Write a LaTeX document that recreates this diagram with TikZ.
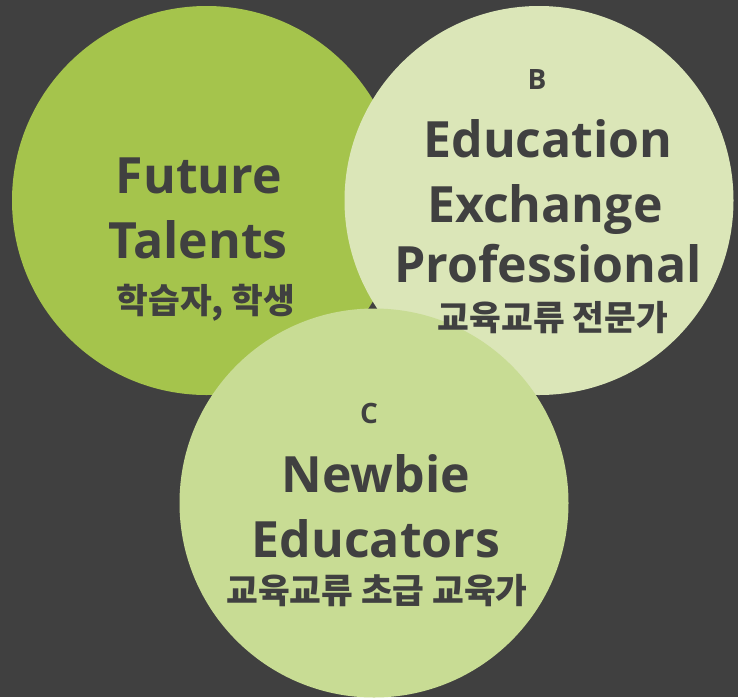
\documentclass[tikz,border=0pt]{standalone}
\usepackage{fontspec}
\setmainfont{Open Sans}
\newfontfamily\kor{Noto Sans CJK KR}
\usepackage{tikz}

\definecolor{fundal}{HTML}{404040}
\definecolor{verdeA}{HTML}{A5C44C}
\definecolor{verdeB}{HTML}{DBE6B8}
\definecolor{verdeC}{HTML}{C8DC94}
\definecolor{scris}{HTML}{404040}

\begin{document}
\begin{tikzpicture}[x=1pt, y=-1pt]
        \tikzstyle{cerc}   = [circle, inner sep=0pt, minimum size=389pt]
        \tikzstyle{every node} = [text=scris, inner sep=0pt, anchor=base]
        \tikzstyle{titlu}  = [font=\fontsize{50}{50}\selectfont\bfseries]
        \tikzstyle{litera} = [font=\fontsize{28}{28}\selectfont\bfseries]
        \tikzstyle{coreean} = [font=\kor\fontsize{34.5}{34.5}\selectfont\bfseries]

        \fill[fundal] (0,0) rectangle (738,697);
        \useasboundingbox (0,0) rectangle (738,697);

        % Cercurile.
        \node[cerc, fill=verdeA, anchor=center] (cercA) at (206.5,200.5) {};
        \node[cerc, fill=verdeB, anchor=center] (cercB) at (539,200.5) {};
        \node[cerc, fill=verdeC, anchor=center] (cercC) at (374,503) {};

        % Textele.
        \node[titlu]   (viitor)  at (199,193) {Future};
        \node[titlu]   (talente) at (198,258) {Talents};
        \node[coreean] (elevi)   at (206,313) {학습자, 학생};

        \node[litera]  (literaB) at (537,89)  {B};
        \node[titlu]   (educ)    at (548,157) {Education};
        \node[titlu]   (schimb)  at (545,222) {Exchange};
        \node[titlu]   (prof)    at (548,282) {Professional};
        \node[coreean] (expert)  at (553,330) {교육교류 전문가};

        \node[litera]  (literaC) at (369,423) {C};
        \node[titlu]   (nou)     at (376,492) {Newbie};
        \node[titlu]   (educat)  at (376,557) {Educators};
        \node[coreean] (incep)   at (377,603) {교육교류 초급 교육가};
    \end{tikzpicture}
\end{document}
